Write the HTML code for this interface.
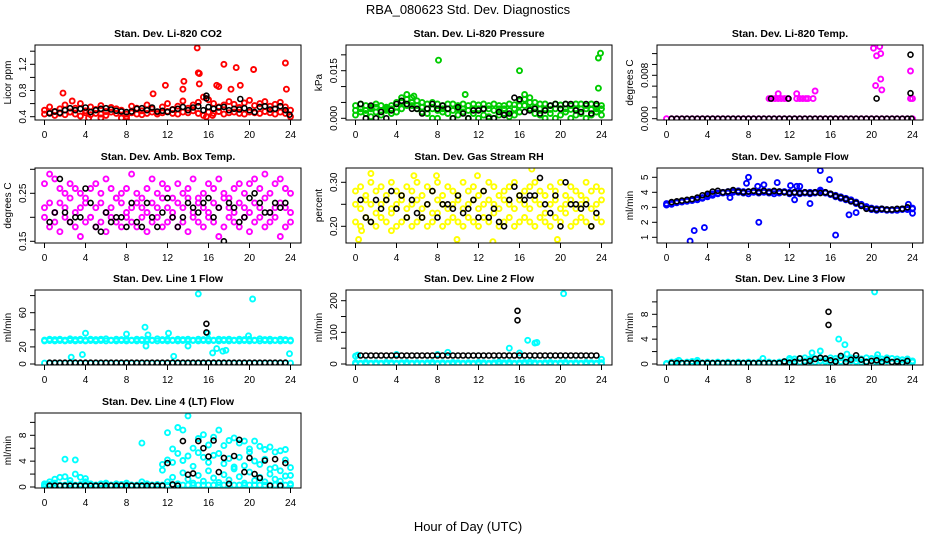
<!DOCTYPE html>
<html><head><meta charset="utf-8"><style>
html,body{margin:0;padding:0;background:#fff}
svg{display:block;font-family:"Liberation Sans",Arial,sans-serif}
</style></head><body>
<svg id="chart" width="936" height="540" viewBox="0 0 936 540">
<text x="468" y="14" text-anchor="middle" font-size="13">RBA_080623  Std. Dev. Diagnostics</text>
<text x="468" y="531" text-anchor="middle" font-size="13">Hour of Day (UTC)</text>
</svg>
<script>
// ---------- shared x categories ----------
const hours49 = Array.from({length:49},(_,i)=>i*0.5);       // colored series times
const hoursBlack = Array.from({length:47},(_,i)=>0.5+i*0.5); // black series times
const xTicks = [0,4,8,12,16,20,24];

// ---------- P1 CO2 ----------
const co2Red1=[0.50,0.55,0.48,0.52,0.58,0.47,0.53,0.60,0.49,0.55,0.51,0.57,0.48,0.54,0.52,0.50,0.44,0.56,0.53,0.49,0.58,0.52,0.47,0.55,0.60,0.51,0.56,0.64,0.53,0.58,0.62,0.70,0.66,0.60,0.55,0.58,0.63,0.59,0.54,0.61,0.65,0.57,0.60,0.63,0.56,0.59,0.62,0.55,0.50];
const co2Red2=[0.44,0.46,0.42,0.45,0.43,0.47,0.44,0.41,0.46,0.43,0.45,0.44,0.42,0.47,0.45,0.38,0.40,0.46,0.44,0.43,0.45,0.47,0.44,0.46,0.48,0.45,0.44,0.47,0.46,0.49,0.45,0.42,0.47,0.45,0.48,0.44,0.46,0.47,0.45,0.44,0.47,0.46,0.45,0.48,0.46,0.44,0.47,0.45,0.40];
const co2OutX=[1.8,2.7,10.6,11.8,13.5,13.6,14.9,15,15.1,15.1,16.8,17,17.5,18.2,18.7,19.1,20.4,23.5,23.6,8,4.3,5.5,16.4,15.8];
const co2OutY=[0.76,0.64,0.75,0.88,0.82,0.94,1.45,1.07,1.06,0.9,0.88,0.86,1.2,0.82,1.15,0.88,1.12,1.22,0.82,0.37,0.38,0.38,0.42,0.40];
const co2Black=[0.45,0.48,0.46,0.50,0.53,0.50,0.52,0.54,0.47,0.50,0.52,0.53,0.51,0.49,0.48,0.47,0.48,0.52,0.53,0.50,0.54,0.48,0.49,0.47,0.51,0.52,0.55,0.50,0.54,0.56,0.50,0.55,0.52,0.54,0.55,0.50,0.52,0.51,0.53,0.50,0.47,0.55,0.56,0.51,0.52,0.56,0.50];
const co2BlkX=[15.8,15.8,19.1,23.9], co2BlkY=[0.72,0.68,0.67,0.43];

// ---------- P2 Pressure ----------
const prG1=[0.004,0.0045,0.004,0.0035,0.0045,0.004,0.003,0.004,0.005,0.0065,0.0075,0.0065,0.0055,0.005,0.0045,0.005,0.0045,0.004,0.0045,0.0045,0.004,0.0045,0.004,0.0045,0.0042,0.0045,0.004,0.0045,0.004,0.004,0.0045,0.0043,0.0055,0.0075,0.0065,0.005,0.0045,0.0045,0.004,0.0045,0.0042,0.0045,0.004,0.0045,0.0045,0.004,0.0045,0.004,0.004];
const prG2=[0.001,0.002,0.0015,0.0005,0.002,0.001,0.0025,0.0015,0.002,0.003,0.004,0.004,0.003,0.002,0.0015,0,0,0.002,0.0015,0,0.001,0.002,0,0.0015,0,0.001,0.0005,0,0.001,0.0015,0.0005,0.001,0.002,0.004,0.003,0.0015,0.001,0,0.0015,0,0.001,0.002,0,0.001,0.0015,0,0.001,0.002,0.001];
const prG3=[0.0025,0.003,0.0025,0.003,0.0035,0.0025,0.0035,0.003,0.0035,0.005,0.006,0.005,0.004,0.0035,0.003,0.003,0.0025,0.003,0.003,0.0025,0.003,0.003,0.0025,0.003,0.003,0.0028,0.003,0.0025,0.003,0.003,0.0025,0.003,0.004,0.006,0.005,0.0035,0.003,0.003,0.0028,0.003,0.003,0.003,0.0028,0.003,0.003,0.003,0.0028,0.003,0.003];
const prOutX=[8.1,16,10.7,23.7,23.9,23.7,5.7], prOutY=[0.0183,0.015,0.0075,0.019,0.0205,0.0095,0.007];
const prBlack=[0.0045,0,0.004,0,0.002,0,0.0025,0.0045,0.0055,0.0045,0.003,0.003,0.0015,0.003,0.0045,0.003,0.004,0.003,0,0.0035,0.0015,0,0.0025,0.0025,0.003,0,0,0.002,0.001,0.0015,0.0065,0.006,0.002,0.0025,0.003,0.0015,0.0025,0.004,0.0045,0.003,0.0045,0.0045,0.0025,0.002,0.0045,0.0015,0.0045];

// ---------- P3 Li-820 Temp ----------
const tmpMag=[0,0,0,0,0,0,0,0,0,0,0,0,0,0,0,0,0,0,0,0,0,0,0,0,0,0,0,0,0,0,0,0,0,0,0,0,0,0,0,0,0,0,0,0,0,0,0,0,0];
const tmpMagX=[10.0,10.3,10.6,10.9,11.2,11.5,11.8,10.9,12.7,13.0,13.3,13.6,13.8,12.7,14.3,14.5,20.2,20.5,20.8,20.9,20.4,20.9,21.0,23.8,23.8,24.0];
const tmpMagY=[0.0037,0.0037,0.0037,0.0037,0.0037,0.0037,0.0037,0.0046,0.0037,0.0037,0.0037,0.0037,0.0037,0.0046,0.0037,0.0051,0.013,0.0116,0.0133,0.012,0.0061,0.0073,0.0053,0.0088,0.0037,0.0037];
const tmpBlack=[0,0,0,0,0,0,0,0,0,0,0,0,0,0,0,0,0,0,0,0,0,0,0,0,0,0,0,0,0,0,0,0,0,0,0,0,0,0,0,0,0,0,0,0,0,0,0];
const tmpBlkX=[10.2,11.9,20.5,23.8,23.8,23.9], tmpBlkY=[0.0037,0.0037,0.0037,0.0118,0.0047,0];

// ---------- P4 Amb Box Temp ----------
const ambM1=[0.27,0.29,0.28,0.26,0.25,0.27,0.26,0.25,0.24,0.26,0.27,0.25,0.28,0.26,0.24,0.25,0.26,0.29,0.25,0.24,0.26,0.28,0.25,0.27,0.26,0.24,0.27,0.25,0.26,0.28,0.24,0.25,0.27,0.26,0.28,0.25,0.24,0.26,0.27,0.25,0.27,0.28,0.26,0.29,0.25,0.27,0.28,0.26,0.25];
const ambM2=[0.22,0.23,0.21,0.23,0.22,0.24,0.21,0.22,0.23,0.20,0.22,0.23,0.21,0.22,0.24,0.23,0.21,0.22,0.23,0.22,0.21,0.23,0.22,0.24,0.22,0.21,0.23,0.22,0.24,0.21,0.23,0.22,0.21,0.23,0.22,0.24,0.22,0.21,0.23,0.22,0.21,0.23,0.22,0.24,0.21,0.22,0.23,0.22,0.21];
const ambM3=[0.20,0.18,0.19,0.17,0.20,0.19,0.18,0.16,0.19,0.20,0.18,0.19,0.17,0.20,0.19,0.18,0.20,0.19,0.18,0.20,0.17,0.19,0.20,0.18,0.19,0.20,0.18,0.19,0.17,0.20,0.19,0.18,0.20,0.19,0.16,0.18,0.20,0.19,0.18,0.20,0.17,0.19,0.20,0.18,0.19,0.20,0.16,0.18,0.19];
const ambBlack=[0.19,0.21,0.28,0.21,0.19,0.20,0.20,0.26,0.23,0.18,0.17,0.21,0.19,0.20,0.20,0.18,0.23,0.19,0.18,0.23,0.20,0.18,0.21,0.24,0.20,0.18,0.20,0.23,0.22,0.21,0.23,0.24,0.20,0.22,0.15,0.23,0.22,0.19,0.20,0.24,0.25,0.23,0.21,0.21,0.23,0.22,0.23];

// ---------- P5 Gas Stream RH ----------
const rhY1=[0.28,0.29,0.27,0.30,0.28,0.29,0.27,0.30,0.28,0.27,0.29,0.28,0.30,0.27,0.29,0.28,0.30,0.27,0.29,0.28,0.27,0.30,0.28,0.29,0.27,0.28,0.30,0.29,0.27,0.28,0.29,0.30,0.27,0.28,0.29,0.30,0.28,0.27,0.29,0.28,0.30,0.27,0.29,0.28,0.27,0.30,0.28,0.29,0.28];
const rhY2=[0.25,0.24,0.26,0.25,0.23,0.25,0.26,0.24,0.25,0.26,0.24,0.25,0.26,0.24,0.25,0.23,0.26,0.25,0.24,0.25,0.26,0.24,0.25,0.26,0.24,0.25,0.26,0.25,0.24,0.26,0.25,0.24,0.26,0.25,0.24,0.26,0.25,0.23,0.25,0.26,0.24,0.25,0.26,0.24,0.25,0.26,0.24,0.25,0.26];
const rhY3=[0.21,0.20,0.22,0.21,0.20,0.22,0.21,0.23,0.20,0.21,0.22,0.20,0.21,0.22,0.20,0.21,0.23,0.20,0.21,0.22,0.21,0.20,0.22,0.21,0.20,0.22,0.21,0.23,0.20,0.21,0.22,0.20,0.21,0.22,0.21,0.20,0.22,0.21,0.20,0.22,0.21,0.23,0.20,0.21,0.22,0.21,0.20,0.22,0.21];
const rhOutX=[0.3,1.5,5.7,7.9,9.9,11.9,13.4,17.2,19.7,0.6,3.5], rhOutY=[0.17,0.32,0.315,0.315,0.17,0.315,0.165,0.33,0.17,0.19,0.19];
const rhBlack=[0.26,0.22,0.21,0.26,0.24,0.26,0.28,0.24,0.27,0.22,0.26,0.23,0.22,0.25,0.28,0.22,0.25,0.25,0.24,0.27,0.23,0.24,0.26,0.22,0.28,0.22,0.24,0.21,0.20,0.26,0.29,0.27,0.26,0.27,0.27,0.31,0.25,0.23,0.27,0.20,0.30,0.25,0.25,0.24,0.25,0.20,0.23];

// ---------- P6 Sample Flow ----------
const sfB1=[3.25,3.3,3.35,3.4,3.45,3.5,3.55,3.65,3.8,3.9,3.95,4.0,4.05,4.05,4.1,4.05,4.05,4.05,4.05,4.1,4.05,4.05,4.05,4.05,4.0,4.0,4.0,4.0,4.0,4.0,4.05,4.0,3.9,3.8,3.7,3.6,3.5,3.35,3.2,3.05,2.95,2.9,2.9,2.85,2.85,2.85,2.9,2.9,2.95];
const sfB2=[3.15,3.2,3.3,3.35,3.4,3.45,3.5,3.6,3.7,3.8,3.9,3.95,3.95,4.0,4.0,3.95,3.9,4.0,3.95,4.0,3.95,3.9,3.95,4.0,3.9,3.95,3.9,3.95,3.9,3.95,4.15,3.95,3.85,3.7,3.6,3.5,3.4,3.25,3.1,2.95,2.85,2.8,2.85,2.8,2.8,2.8,2.85,2.85,2.9];
const sfOutX=[2.3,2.7,3.7,7.8,8,8.9,9,9.5,10.8,12.1,12.7,13,14,15,15.9,16.5,17.8,18.5,6.2,12.5,23.6,24];
const sfOutY=[0.75,1.45,1.65,4.6,5.0,4.4,2.0,4.5,4.65,4.45,4.4,4.4,3.25,5.45,4.85,1.15,2.5,2.65,3.65,3.5,3.2,2.6];
const sfBlack=[3.35,3.4,3.45,3.5,3.55,3.65,3.8,3.9,4.05,4.1,4.0,4.05,4.15,4.05,4.0,4.05,4.1,4.0,4.1,4.0,4.1,4.05,4.0,3.95,4.0,3.95,4.0,3.95,4.0,3.95,4.0,3.9,3.75,3.65,3.55,3.4,3.3,3.1,2.9,2.9,2.85,2.9,2.85,2.85,2.9,2.9,3.0];

// ---------- P7 Line 1 ----------
const l1C1=[28,29,28.5,29,28,29.5,28.5,29,28,29,28.5,29,29.5,28,29,28.5,29,28,29,28.5,29,28,29.5,28.5,29,28,29,28.5,29,28,29,28.5,29,28,29,28.5,29,28,29,28.5,29,28,29.5,28.5,29,28,29,28.5,28];
const l1C2=[27,27.5,27,27.5,27,27.5,27,27.5,27,27.5,27,27.5,27,27.5,27,27.5,27,27.5,27,27.5,27,27.5,27,27.5,27,27.5,27,27.5,27,27.5,27,27.5,27,27.5,27,27.5,27,27.5,27,27.5,27,27.5,27,27.5,27,27.5,27,27.5,27];
const l1C3=[1,1,1,1,1,1,1,1,1,1,1,1,1,1,1,1,1,1,1,1,1,1,1,1,1,1,1,1,1,1,1,1,1,1,1,1,1,1,1,1,1,1,1,1,1,1,1,1,1];
const l1OutX=[2.6,3.7,4,8,9.8,9.9,10.1,12.1,12.6,14,15,15.9,16.4,16.8,17.4,17.7,19.9,20.3,23.9];
const l1OutY=[8,11,36,35,43,21,34,36,9,21,82,36,13,18,15,16,33,76,12];
const l1Black=[1.5,1.5,1.5,1.5,1.5,1.5,1.5,1.5,1.5,1.5,1.5,1.5,1.5,1.5,1.5,1.5,1.5,1.5,1.5,1.5,1.5,1.5,1.5,1.5,1.5,1.5,1.5,1.5,1.5,1.5,1.5,1.5,1.5,1.5,1.5,1.5,1.5,1.5,1.5,1.5,1.5,1.5,1.5,1.5,1.5,1.5,1.5];
const l1BlkX=[15.8,15.8], l1BlkY=[47,37];

// ---------- P8 Line 2 ----------
const l2C1=[0,0,0,0,0,0,0,0,0,0,0,0,0,0,0,0,0,0,0,0,0,0,0,0,0,0,0,0,0,0,0,0,0,0,0,0,0,0,0,0,0,0,0,0,0,0,0,0,0];
const l2C2=[4,3,5,3,4,3,5,4,3,4,5,3,4,3,4,5,3,4,3,5,4,3,4,3,5,4,3,4,6,4,5,3,4,5,6,4,3,4,5,3,4,5,3,4,3,5,4,3,4];
const l2OutX=[0,0.2,4,8,9,15,16,16.8,17.5,17.7,20.3,24], l2OutY=[25,28,30,30,37,50,35,75,66,68,222,15];
const l2Black=[27,27,27,27,27,27,27,27,27,27,27,27,27,27,27,27,27,27,27,27,27,27,27,27,27,27,27,27,27,27,27,27,27,27,27,27,27,27,27,27,27,27,27,27,27,27,27];
const l2BlkX=[15.8,15.8], l2BlkY=[168,138];

// ---------- P9 Line 3 ----------
const l3C1=[0.1,0.3,0.4,0.2,0.3,0.4,0.3,0.2,0.3,0.2,0.3,0.2,0.3,0.2,0.3,0.2,0.3,0.2,0.3,0.2,0.3,0.2,0.3,0.4,0.7,0.8,0.9,1.0,0.8,0.9,1.0,0.8,1.0,0.9,1.0,0.8,1.0,0.9,0.8,1.0,0.9,1.0,0.8,1.0,0.9,0.8,0.7,0.8,0.5];
const l3C2=[0,0.1,0.1,0.1,0.1,0.1,0.1,0.1,0.1,0.1,0.1,0.1,0.1,0.1,0.1,0.1,0.1,0.1,0.1,0.1,0.1,0.1,0.1,0.2,0.3,0.4,0.3,0.5,0.4,0.3,0.5,0.4,0.3,0.5,0.4,0.3,0.5,0.4,0.3,0.4,0.5,0.3,0.4,0.5,0.3,0.4,0.3,0.4,0.3];
const l3OutX=[9.4,12,14.2,15,16.8,17.4,20.3,17.6,20.6,1.2,3], l3OutY=[0.9,0.9,1.8,2.1,4,3.1,11.6,1.6,1.5,0.6,0.6];
const l3Black=[0.15,0.15,0.15,0.15,0.15,0.15,0.15,0.15,0.15,0.15,0.15,0.15,0.15,0.15,0.15,0.15,0.15,0.15,0.15,0.15,0.15,0.15,0.4,0.2,0.3,0.9,0.3,0.5,0.8,1.0,0.9,0.6,0.4,1.3,0.3,0.7,1.4,0.7,0.3,0.5,0.6,0.3,0.7,0.3,0.4,0.2,0.5];
const l3BlkX=[15.8,15.8], l3BlkY=[8.4,6.3];

// ---------- P10 Line 4 (LT) ----------
const l4C1=[0.5,0.8,1.2,1.5,4.3,1.0,4.2,1.5,0.8,0.5,0.3,0.5,0.6,0.3,0.5,0.4,0.6,0.3,0.2,6.8,0.5,0.3,0.4,2.6,8.4,5.9,9.2,8.8,11.0,6.0,7.5,8.1,6.5,7.7,8.8,6.4,7.2,7.6,6.8,7.1,5.9,7.1,6.3,5.8,6.2,5.4,5.6,5.8,3.0];
const l4C2=[0.2,0.4,0.6,0.3,1.6,0.5,2.0,0.4,1.3,0.3,0.2,0.3,0.4,0.2,0.3,0.2,0.3,0.2,0.2,0.8,0.3,0.2,0.3,3.5,4.2,3.8,5.2,4.1,4.8,3.2,5.3,4.6,3.8,4.9,5.2,3.6,4.4,3.1,4.6,3.3,5.4,4.0,3.5,4.3,2.8,3.0,2.5,4.2,1.8];
const l4C3=[0.1,0.2,0.1,0.2,0.1,0.2,0.1,0.2,0.1,0.2,0.1,0.2,0.1,0.2,0.1,0.2,0.1,0.2,0.1,0.2,0.1,0.2,0.1,0.2,0.8,1.5,0.5,2.2,1.2,0.6,1.8,0.9,2.5,1.4,0.7,1.9,1.1,2.8,1.6,0.6,2.3,1.0,1.5,0.8,2.0,1.2,0.9,1.7,0.5];
const l4C4=[0.3,0.3,0.3,0.3,0.3,0.3,0.3,0.3,0.3,0.3,0.3,0.3,0.3,0.3,0.3,0.3,0.3,0.3,0.3,0.3,0.3,0.3,0.3,0.3,0.3,0.3,0.3,0.3,0.3,0.3,0.3,0.3,0.3,0.3,0.3,0.3,0.3,0.3,0.3,0.3,0.3,0.3,0.3,0.3,0.3,0.3,0.3,0.3,0.3];
const l4Black=[0.2,0.2,0.2,0.2,0.2,0.2,0.2,0.2,0.2,0.2,0.2,0.2,0.2,0.2,0.2,0.2,0.2,0.2,0.2,0.2,0.2,0.2,0.2,3.7,0.4,0.2,7.1,1.9,2.1,7.1,6.0,4.7,7.2,2.3,4.5,0.5,4.8,7.3,2.3,4.5,2.0,1.4,4.1,0.2,4.3,0.2,3.7];

// ---------- layout ----------
const NS='http://www.w3.org/2000/svg';
const svg=document.getElementById('chart');
const colL=[35,346,657], rowT=[45,168,290,413], BW=266, BH=75;
function mk(tag,attrs,parent){const e=document.createElementNS(NS,tag);for(const k in attrs)e.setAttribute(k,attrs[k]);(parent||svg).appendChild(e);return e;}

const panels=[
 {name:'co2',title:'Stan. Dev. Li-820 CO2',ylab:'Licor ppm',c:0,r:0,v0:0.4,p0:116.7,v1:1.2,p1:64.3,ticks:[0.4,0.6,0.8,1.0,1.2,1.4],labels:[0.4,0.8,1.2],dec:1,
  series:[[hours49,co2Red1,'#ff0000'],[hours49,co2Red2,'#ff0000'],[co2OutX,co2OutY,'#ff0000'],[hoursBlack,co2Black,'#000'],[co2BlkX,co2BlkY,'#000']]},
 {name:'pressure',title:'Stan. Dev. Li-820 Pressure',ylab:'kPa',c:1,r:0,v0:0,p0:118.3,v1:0.015,p1:70.7,ticks:[0,0.005,0.01,0.015,0.02],labels:[0,0.015],dec:3,
  series:[[hours49,prG2,'#00cc00'],[hours49,prG3,'#00cc00'],[hours49,prG1,'#00cc00'],[prOutX,prOutY,'#00cc00'],[hoursBlack,prBlack,'#000']]},
 {name:'temp',title:'Stan. Dev. Li-820 Temp.',ylab:'degrees C',c:2,r:0,v0:0,p0:118.7,v1:0.008,p1:75.3,ticks:[0,0.002,0.004,0.006,0.008,0.01,0.012],labels:[0,0.008],dec:3,
  series:[[hours49,tmpMag,'#ff00ff'],[tmpMagX,tmpMagY,'#ff00ff'],[hoursBlack,tmpBlack,'#000'],[tmpBlkX,tmpBlkY,'#000']]},
 {name:'amb-box-temp',title:'Stan. Dev. Amb. Box Temp.',ylab:'degrees C',c:0,r:1,v0:0.15,p0:241.3,v1:0.25,p1:193.3,ticks:[0.15,0.2,0.25,0.3],labels:[0.15,0.25],dec:2,
  series:[[hours49,ambM1,'#ff00ff'],[hours49,ambM2,'#ff00ff'],[hours49,ambM3,'#ff00ff'],[hoursBlack,ambBlack,'#000']]},
 {name:'gas-rh',title:'Stan. Dev. Gas Stream RH',ylab:'percent',c:1,r:1,v0:0.2,p0:226.3,v1:0.3,p1:182.3,ticks:[0.2,0.25,0.3],labels:[0.2,0.3],dec:2,
  series:[[hours49,rhY1,'#ffff00'],[hours49,rhY2,'#ffff00'],[hours49,rhY3,'#ffff00'],[rhOutX,rhOutY,'#ffff00'],[hoursBlack,rhBlack,'#000']]},
 {name:'sample-flow',title:'Stan. Dev. Sample Flow',ylab:'ml/min',c:2,r:1,v0:1,p0:237.3,v1:5,p1:177.3,ticks:[1,2,3,4,5],labels:[1,2,3,4,5],dec:0,
  series:[[hours49,sfB2,'#0000ff'],[hours49,sfB1,'#0000ff'],[sfOutX,sfOutY,'#0000ff'],[hoursBlack,sfBlack,'#000']]},
 {name:'line1-flow',title:'Stan. Dev. Line 1 Flow',ylab:'ml/min',c:0,r:2,v0:0,p0:364,v1:60,p1:312.7,ticks:[0,20,40,60,80],labels:[0,20,60],dec:0,
  series:[[hours49,l1C1,'#00ffff'],[hours49,l1C2,'#00ffff'],[hours49,l1C3,'#00ffff'],[l1OutX,l1OutY,'#00ffff'],[hoursBlack,l1Black,'#000'],[l1BlkX,l1BlkY,'#000']]},
 {name:'line2-flow',title:'Stan. Dev. Line 2 Flow',ylab:'ml/min',c:1,r:2,v0:0,p0:364,v1:200,p1:300.7,ticks:[0,50,100,150,200],labels:[0,100,200],dec:0,
  series:[[hours49,l2C1,'#00ffff'],[hours49,l2C2,'#00ffff'],[l2OutX,l2OutY,'#00ffff'],[hoursBlack,l2Black,'#000'],[l2BlkX,l2BlkY,'#000']]},
 {name:'line3-flow',title:'Stan. Dev. Line 3 Flow',ylab:'ml/min',c:2,r:2,v0:0,p0:364,v1:8,p1:314.3,ticks:[0,2,4,6,8,10],labels:[0,4,8],dec:0,
  series:[[hours49,l3C1,'#00ffff'],[hours49,l3C2,'#00ffff'],[l3OutX,l3OutY,'#00ffff'],[hoursBlack,l3Black,'#000'],[l3BlkX,l3BlkY,'#000']]},
 {name:'line4-flow',title:'Stan. Dev. Line 4 (LT) Flow',ylab:'ml/min',c:0,r:3,v0:0,p0:487,v1:8,p1:435.3,ticks:[0,2,4,6,8,10],labels:[0,4,8],dec:0,
  series:[[hours49,l4C1,'#00ffff'],[hours49,l4C2,'#00ffff'],[hours49,l4C3,'#00ffff'],[hours49,l4C4,'#00ffff'],[hoursBlack,l4Black,'#000']]}
];

panels.forEach(p=>{
  const L=colL[p.c], T=rowT[p.r], B=T+BH, R=L+BW;
  const g=mk('g',{});
  
  
  const xs=h=>L+9.5+h/24*246;
  const ys=v=>p.p0+(v-p.v0)*(p.p1-p.p0)/(p.v1-p.v0);
  const clip='clip-'+p.name;
  const cp=mk('clipPath',{id:clip},g); mk('rect',{x:L,y:T,width:BW,height:BH},cp);
  const t=mk('text',{x:L+BW/2,y:T-8,'text-anchor':'middle','font-size':'10.5','font-weight':'bold'},g);
  t.textContent=p.title;
  
  
  const yl=mk('text',{x:0,y:0,'text-anchor':'middle','font-size':'10',transform:`translate(${L-24},${T+BH/2}) rotate(-90)`},g);
  yl.textContent=p.ylab;
  
  
  const pg=mk('g',{'clip-path':`url(#${clip})`,fill:'none'},g);
  p.series.forEach(s=>{
    const [X,Y,col]=s;
    const sw = col==='#000' ? 1.6 : 1.9;
    for(let i=0;i<Y.length;i++){
      const c=mk('circle',{cx:xs(X[i]).toFixed(1),cy:ys(Y[i]).toFixed(1),r:2.5,stroke:col,'stroke-width':sw},pg);
      
      
    }
  });
  const box=mk('rect',{x:L,y:T,width:BW,height:BH,fill:'none',stroke:'#000','stroke-width':'1'},g);
  
  
  xTicks.forEach(h=>{
    mk('line',{x1:xs(h),x2:xs(h),y1:B,y2:B+5,stroke:'#000'},g);
    const tx=mk('text',{x:xs(h),y:B+18,'text-anchor':'middle','font-size':'10'},g);
    tx.textContent=h;
    
    
  });
  p.ticks.forEach(v=>{
    const y=ys(v); if(y<T-1||y>B+1) return;
    mk('line',{x1:L,x2:L-5,y1:y,y2:y,stroke:'#000'},g);
  });
  p.labels.forEach(v=>{
    const y=ys(v);
    const ty=mk('text',{x:0,y:0,'text-anchor':'middle','font-size':'10',transform:`translate(${L-9},${y}) rotate(-90)`},g);
    ty.textContent=v.toFixed(p.dec);
    
    
  });
});
</script>
</body></html>
